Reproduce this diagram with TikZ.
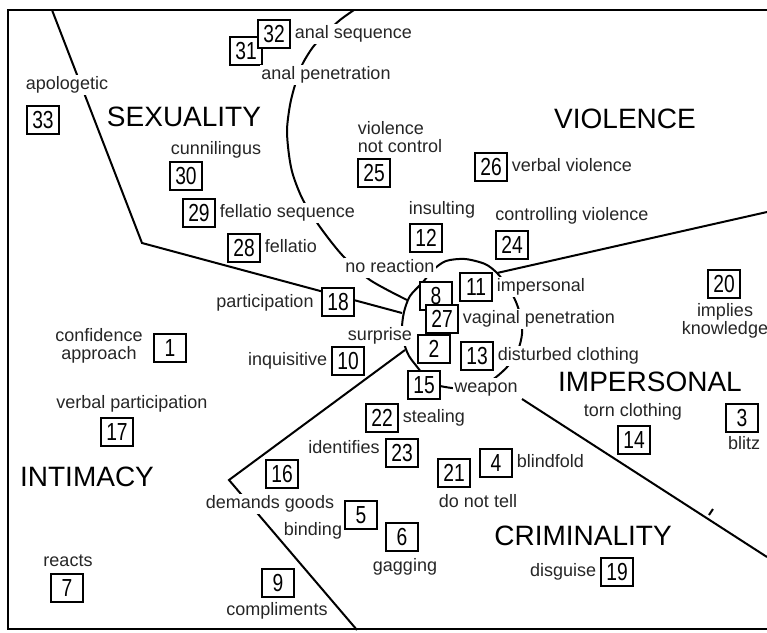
\documentclass[tikz,border=0pt]{standalone}
\usepackage{fontspec}
\setmainfont{Liberation Sans}
\newfontfamily\numfont[FakeStretch=0.78]{Liberation Sans}
\usetikzlibrary{positioning,backgrounds}

\begin{document}
\begin{tikzpicture}[x=0.75pt, y=-0.75pt,
  box/.style={draw, line width=1.3pt, fill=white, inner sep=0pt, minimum width=23.5pt, minimum height=21.5pt, font=\numfont\fontsize{18.5}{18.5}\selectfont},
  txt/.style={fill=white, inner sep=1pt, text=black!85, font=\fontsize{13.5}{13}\selectfont},
  lbl/.style={txt, text height=9.7pt, text depth=2.7pt},
  cat/.style={font=\fontsize{21}{21}\selectfont},
  cut/.style={line width=1.5pt},
  node distance=2pt]
\useasboundingbox (0,0) rectangle (767,632);

\node[cat] (sex) at (184,117) {SEXUALITY};
\node[cat] (vio) at (625,119) {VIOLENCE};
\node[cat] (imp) at (650,382) {IMPERSONAL};
\node[cat] (int) at (87,477) {INTIMACY};
\node[cat] (cri) at (583,536) {CRIMINALITY};

\node[box] (n1) at (170,348) {1};
\node[box] (n2) at (434,349) {2};
\node[box] (n3) at (742,418) {3};
\node[box] (n4) at (496,463) {4};
\node[box] (n5) at (361,515) {5};
\node[box] (n6) at (402,537) {6};
\node[box] (n7) at (67,588) {7};
\node[box] (n8) at (436,296) {8};
\node[box] (n9) at (278,583) {9};
\node[box] (n10) at (348,361) {10};
\node[box] (n11) at (476,287) {11};
\node[box] (n12) at (426,238) {12};
\node[box] (n13) at (477,356) {13};
\node[box] (n14) at (634,440) {14};
\node[box] (n15) at (424,385) {15};
\node[box] (n16) at (282,474) {16};
\node[box] (n17) at (117,432) {17};
\node[box] (n18) at (338,302) {18};
\node[box] (n19) at (617,572) {19};
\node[box] (n20) at (724,284) {20};
\node[box] (n21) at (454,473) {21};
\node[box] (n22) at (382,418) {22};
\node[box] (n23) at (402,453) {23};
\node[box] (n24) at (512,245) {24};
\node[box] (n25) at (374,173) {25};
\node[box] (n26) at (491,167) {26};
\node[box] (n27) at (442,319) {27};
\node[box] (n28) at (244,248) {28};
\node[box] (n29) at (199,213) {29};
\node[box] (n30) at (186,176) {30};
\node[box] (n31) at (246,51) {31};
\node[box] (n32) at (274,34) {32};
\node[box] (n33) at (43,120) {33};

\node[lbl] (apol) at (67,85) {apologetic};
\node[lbl, right=of n32] (anseq) {anal sequence};
\node[lbl] (anpen) at (326,75) {anal penetration};
\node[lbl] (cunn) at (216,150) {cunnilingus};
\node[txt, align=left] (vnc) at (400,137) {violence\\not control};
\node[lbl, right=of n26] (verv) {verbal violence};
\node[lbl, right=of n29] (felseq) {fellatio sequence};
\node[lbl] (insu) at (442,210) {insulting};
\node[lbl] (ctrl) at (572,216) {controlling violence};
\node[lbl, right=of n28] (fel) {fellatio};
\node[lbl] (noreac) at (390,268) {no reaction};
\node[lbl] (parti) at (265,303) {participation};
\node[lbl, right=of n11] (impers) {impersonal};
\node[lbl, right=of n27] (vagpen) {vaginal penetration};
\node[txt, align=center] (impl) at (725,321) {implies\\knowledge};
\node[txt, align=center] (conf) at (99,346) {confidence\\approach};
\node[lbl] (surp) at (380,336) {surprise};
\node[lbl, left=of n10] (inqu) {inquisitive};
\node[lbl, right=of n13] (dist) {disturbed clothing};
\node[lbl] (weap) at (486,388) {weapon};
\node[lbl] (verpa) at (132,404) {verbal participation};
\node[lbl, right=of n22] (steal) {stealing};
\node[lbl] (torn) at (633,412) {torn clothing};
\node[lbl] (blitz) at (744,445) {blitz};
\node[lbl] (iden) at (344,449) {identifies};
\node[lbl] (dmd) at (270,504) {demands goods};
\node[lbl] (dnt) at (478,503) {do not tell};
\node[lbl] (bind) at (313,531) {binding};
\node[lbl] (gag) at (405,567) {gagging};
\node[lbl, right=of n4] (blind) {blindfold};
\node[lbl] (reac) at (68,562) {reacts};
\node[lbl] (compl) at (277,611) {compliments};
\node[lbl, left=of n19] (disg) {disguise};

\begin{scope}[on background layer]
\draw[cut] (767,10) -- (8,10) -- (8,629) -- (767,629);
\draw[cut] (52,10) -- (142,243) -- (402,313);
\draw[cut] plot[smooth] coordinates {(354,10) (340,20) (326,33) (313,47) (302,65) (295,85) (290,105) (287,130) (289,155) (293,175) (303,200) (320,227) (343,256) (370,280) (407,300)};
\draw[cut] plot[smooth] coordinates {(440,386) (452,388) (472,389) (492,380) (508,366) (518,350) (522,334) (521,318) (516,302) (508,287) (497,273) (485,264) (465,259) (446,261) (433,270) (423,282) (410,296) (404,312) (402,328) (404,343) (409,356) (418,368) (424,376)};
\draw[cut] (497,273) -- (767,212);
\draw[cut] (522,399) -- (767,557);
\draw[cut] (709,515) -- (713,509);
\draw[cut] (405,350) -- (229,480) -- (357,630);
\end{scope}
\end{tikzpicture}
\end{document}
